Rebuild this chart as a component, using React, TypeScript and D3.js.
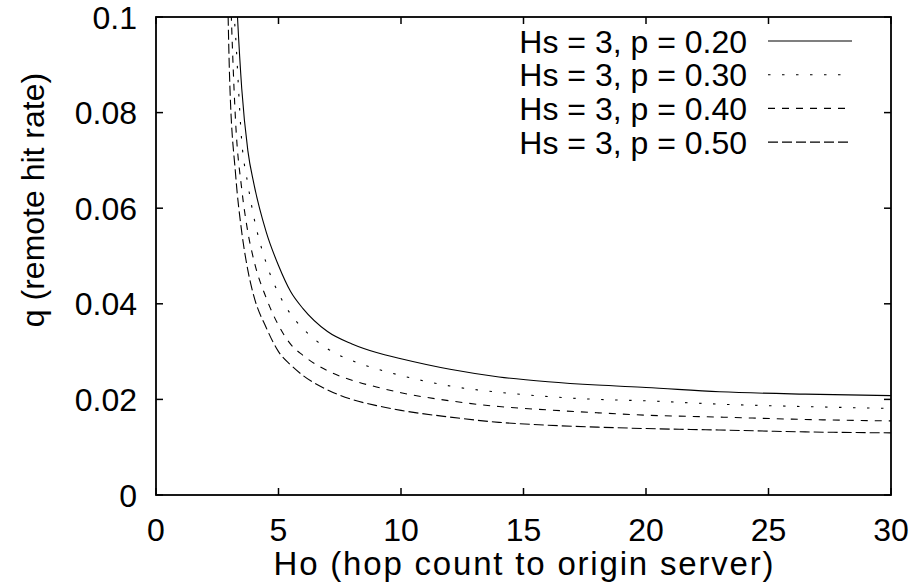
import React from "react";
import * as d3 from "d3";

// hop count to origin server
const hoValues = [2.9, 3, 3.25, 3.5, 3.75, 4, 4.5, 5, 5.5, 6, 7, 8, 9, 10, 12, 14, 16, 18, 20, 23, 26.5, 30];

// remote hit rate q, one list per p (Hs = 3)
const qP20 = [0.2, 0.14, 0.108, 0.085, 0.072, 0.065, 0.055, 0.048, 0.0425, 0.039, 0.0342, 0.0316, 0.0298, 0.0285, 0.0263, 0.0247, 0.0237, 0.023, 0.0225, 0.0216, 0.0211, 0.0208];
const qP30 = [0.16, 0.115, 0.096, 0.074, 0.065, 0.058, 0.0485, 0.0422, 0.0378, 0.0348, 0.0306, 0.0281, 0.0264, 0.025, 0.0228, 0.0215, 0.0206, 0.02, 0.0197, 0.019, 0.0185, 0.0181];
const qP40 = [0.13, 0.112, 0.078, 0.064, 0.055, 0.049, 0.0412, 0.0355, 0.0315, 0.0292, 0.026, 0.024, 0.0226, 0.0214, 0.0197, 0.0185, 0.0178, 0.0172, 0.0167, 0.0163, 0.0158, 0.0155];
const qP50 = [0.112, 0.088, 0.067, 0.055, 0.047, 0.0415, 0.035, 0.03, 0.0272, 0.025, 0.022, 0.02, 0.0187, 0.0177, 0.0163, 0.0152, 0.0146, 0.0142, 0.0139, 0.0136, 0.0132, 0.013];

const seriesLabels = ["Hs = 3, p = 0.20", "Hs = 3, p = 0.30", "Hs = 3, p = 0.40", "Hs = 3, p = 0.50"];
const xTicks = [0, 5, 10, 15, 20, 25, 30];
const yTicks = [0, 0.02, 0.04, 0.06, 0.08, 0.1];

const W = 911;
const H = 586;
const margin = { top: 17, right: 20, bottom: 91, left: 156 };
const font = "'Liberation Sans', Arial, sans-serif";
const dashes = [null, "2.5,11.5", "7,7", "10,4"];

const App = () => {
  const innerW = W - margin.left - margin.right;
  const innerH = H - margin.top - margin.bottom;

  const x = d3.scaleLinear().domain([0, 30]).range([0, innerW]);
  const y = d3.scaleLinear().domain([0, 0.1]).range([innerH, 0]);

  const line = d3
    .line<number>()
    .x((d, i) => x(hoValues[i]))
    .y((d) => y(d))
    .curve(d3.curveMonotoneX);

  const series = [qP20, qP30, qP40, qP50];
  const tick = 7;

  return (
    <svg
      width={W}
      height={H}
      style={{ position: "absolute", left: 0, top: 0, background: "#fff" }}
      fontFamily={font}
    >
      <defs>
        <clipPath id="plot-clip">
          <rect x={0} y={0} width={innerW} height={innerH} />
        </clipPath>
      </defs>
      <g transform={`translate(${margin.left},${margin.top})`}>
        {/* curves */}
        <g clipPath="url(#plot-clip)">
          {series.map((s, i) => (
            <path
              key={i}
              d={line(s) || ""}
              fill="none"
              stroke="#000"
              strokeWidth={1.1}
              strokeDasharray={dashes[i] || undefined}
            />
          ))}
        </g>

        {/* ticks, inward and mirrored */}
        {xTicks.map((t) => (
          <g key={"x" + t}>
            <line x1={x(t)} x2={x(t)} y1={innerH} y2={innerH - tick} stroke="#000" strokeWidth={1.5} />
            <line x1={x(t)} x2={x(t)} y1={0} y2={tick} stroke="#000" strokeWidth={1.5} />
            <text x={x(t)} y={innerH + 46} textAnchor="middle" fontSize={32}>
              {t}
            </text>
          </g>
        ))}
        {yTicks.map((t) => (
          <g key={"y" + t}>
            <line x1={0} x2={tick} y1={y(t)} y2={y(t)} stroke="#000" strokeWidth={1.5} />
            <line x1={innerW} x2={innerW - tick} y1={y(t)} y2={y(t)} stroke="#000" strokeWidth={1.5} />
            <text x={-19} y={y(t)} dy="0.36em" textAnchor="end" fontSize={32}>
              {d3.format("~g")(t)}
            </text>
          </g>
        ))}

        <rect x={0} y={0} width={innerW} height={innerH} fill="none" stroke="#000" strokeWidth={1.8} />

        {/* legend */}
        {seriesLabels.map((label, i) => {
          const ly = 24 + i * 33.7;
          return (
            <g key={label}>
              <text x={591} y={ly} dy="0.36em" textAnchor="end" fontSize={32}>
                {label}
              </text>
              <line
                x1={612}
                x2={696}
                y1={ly}
                y2={ly}
                stroke="#000"
                strokeWidth={1.1}
                strokeDasharray={dashes[i] || undefined}
              />
            </g>
          );
        })}
      </g>

      <text
        x={margin.left + innerW / 2}
        y={575}
        textAnchor="middle"
        fontSize={33}
        textLength={500}
        lengthAdjust="spacing"
      >
        Ho (hop count to origin server)
      </text>
      <text transform="translate(44,200) rotate(-90)" textAnchor="middle" fontSize={32}>
        q (remote hit rate)
      </text>
    </svg>
  );
};

export default App;
